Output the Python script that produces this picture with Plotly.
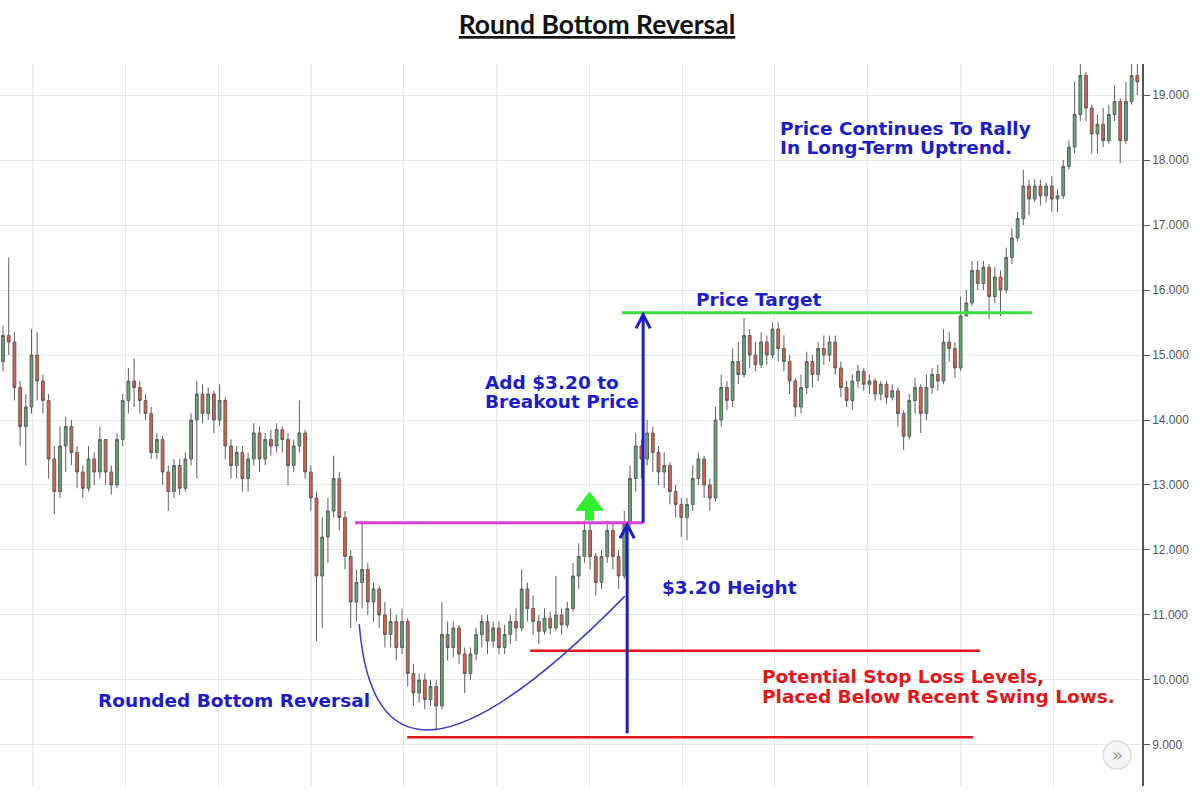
import plotly.graph_objects as go

# daily bars (index = trading day)
days = list(range(200))

opens = [
    14.9, 15.3, 15.2, 14.5, 13.9, 14.2, 15.0, 14.6, 14.3, 13.4,
    12.9, 13.6, 13.9, 13.5, 13.2, 12.95, 13.4, 13.2, 13.7, 13.2,
    13.0, 13.7, 14.3, 14.6, 14.5, 14.3, 14.1, 13.5, 13.7, 13.2,
    12.9, 13.3, 12.95, 13.4, 14.0, 14.4, 14.1, 14.4, 14.0, 14.3,
    13.6, 13.3, 13.5, 13.1, 13.4, 13.8, 13.4, 13.7, 13.6, 13.85,
    13.7, 13.3, 13.6, 13.8, 13.2, 12.8, 11.6, 12.2, 12.6, 13.1,
    12.5, 11.9, 11.2, 11.5, 11.7, 11.2, 11.4, 11.0, 10.7, 10.9,
    10.5, 10.9, 10.1, 9.8, 10.0, 9.7, 9.9, 9.6, 10.7, 10.5,
    10.8, 10.4, 10.1, 10.4, 10.7, 10.9, 10.6, 10.8, 10.5, 10.7,
    10.9, 10.8, 11.4, 11.1, 10.9, 10.75, 10.95, 10.8, 11.0, 10.85,
    11.1, 11.6, 11.9, 12.3, 11.9, 11.5, 11.9, 12.3, 11.9, 11.6,
    12.4, 13.1, 13.6, 13.4, 13.8, 13.5, 13.2, 13.3, 12.9, 12.7,
    12.5, 12.7, 13.1, 13.4, 13.0, 12.8, 14.0, 14.5, 14.3, 14.9,
    14.7, 15.3, 15.0, 14.85, 15.2, 15.0, 15.4, 15.1, 14.9, 14.6,
    14.2, 14.5, 14.9, 14.7, 15.1, 15.0, 15.2, 14.8, 14.5, 14.3,
    14.6, 14.75, 14.55, 14.6, 14.4, 14.55, 14.35, 14.45, 14.1, 13.75,
    14.3, 14.5, 14.1, 14.5, 14.7, 14.6, 15.2, 15.1, 14.8, 15.6,
    15.8, 16.3, 16.1, 16.35, 15.9, 16.2, 16.0, 16.5, 16.8, 17.1,
    17.6, 17.4, 17.6, 17.45, 17.6, 17.4, 17.45, 17.9, 18.2, 18.7,
    19.3, 18.8, 18.4, 18.55, 18.3, 18.7, 18.9, 18.3, 18.9, 19.3,
]

closes = [
    15.3, 15.2, 14.5, 13.9, 14.2, 15.0, 14.6, 14.3, 13.4, 12.9,
    13.6, 13.9, 13.5, 13.2, 12.95, 13.4, 13.2, 13.7, 13.2, 13.0,
    13.7, 14.3, 14.6, 14.5, 14.3, 14.1, 13.5, 13.7, 13.2, 12.9,
    13.3, 12.95, 13.4, 14.0, 14.4, 14.1, 14.4, 14.0, 14.3, 13.6,
    13.3, 13.5, 13.1, 13.4, 13.8, 13.4, 13.7, 13.6, 13.85, 13.7,
    13.3, 13.6, 13.8, 13.2, 12.8, 11.6, 12.2, 12.6, 13.1, 12.5,
    11.9, 11.2, 11.5, 11.7, 11.2, 11.4, 11.0, 10.7, 10.9, 10.5,
    10.9, 10.1, 9.8, 10.0, 9.7, 9.9, 9.6, 10.7, 10.5, 10.8,
    10.4, 10.1, 10.4, 10.7, 10.9, 10.6, 10.8, 10.5, 10.7, 10.9,
    10.8, 11.4, 11.1, 10.9, 10.75, 10.95, 10.8, 11.0, 10.85, 11.1,
    11.6, 11.9, 12.3, 11.9, 11.5, 11.9, 12.3, 11.9, 11.6, 12.4,
    13.1, 13.6, 13.4, 13.8, 13.5, 13.2, 13.3, 12.9, 12.7, 12.5,
    12.7, 13.1, 13.4, 13.0, 12.8, 14.0, 14.5, 14.3, 14.9, 14.7,
    15.3, 15.0, 14.85, 15.2, 15.0, 15.4, 15.1, 14.9, 14.6, 14.2,
    14.5, 14.9, 14.7, 15.1, 15.0, 15.2, 14.8, 14.5, 14.3, 14.6,
    14.75, 14.55, 14.6, 14.4, 14.55, 14.35, 14.45, 14.1, 13.75, 14.3,
    14.5, 14.1, 14.5, 14.7, 14.6, 15.2, 15.1, 14.8, 15.6, 15.8,
    16.3, 16.1, 16.35, 15.9, 16.2, 16.0, 16.5, 16.8, 17.1, 17.6,
    17.4, 17.6, 17.45, 17.6, 17.4, 17.45, 17.9, 18.2, 18.7, 19.3,
    18.8, 18.4, 18.55, 18.3, 18.7, 18.9, 18.3, 18.9, 19.3, 19.2,
]

highs = [
    15.45, 16.5, 15.35, 14.6, 14.4, 15.4, 15.35, 14.7, 14.4, 13.6,
    13.9, 14.05, 14.0, 13.6, 13.3, 13.6, 13.5, 13.9, 13.7, 13.3,
    13.8, 14.4, 14.8, 14.95, 14.6, 14.4, 14.2, 13.8, 13.75, 13.3,
    13.4, 13.4, 13.5, 14.1, 14.6, 14.55, 14.5, 14.45, 14.55, 14.35,
    13.7, 13.6, 13.6, 13.5, 13.95, 13.9, 13.8, 13.85, 13.95, 13.9,
    13.8, 13.7, 14.3, 13.85, 13.3, 12.9, 12.5, 12.8, 13.45, 13.2,
    12.6, 12.0, 11.7, 12.4, 11.8, 11.5, 11.45, 11.2, 11.1, 11.0,
    11.1, 10.95, 10.25, 10.1, 10.1, 10.0, 10.0, 11.2, 10.9, 10.9,
    10.85, 10.5, 10.5, 10.8, 11.0, 11.0, 10.9, 10.9, 10.85, 11.0,
    11.1, 11.7, 11.5, 11.3, 11.0, 11.1, 11.05, 11.6, 11.1, 11.2,
    11.8, 12.1, 12.45, 12.4, 11.95, 12.0, 12.45, 12.4, 12.0, 12.6,
    13.3, 13.8, 13.7, 14.0, 13.9, 13.6, 13.5, 13.35, 13.0, 12.8,
    12.8, 13.3, 13.5, 13.45, 13.1, 14.2, 14.7, 14.6, 15.1, 15.2,
    15.57, 15.4, 15.2, 15.35, 15.3, 15.5, 15.5, 15.3, 15.0, 14.65,
    14.7, 15.05, 15.0, 15.2, 15.3, 15.3, 15.3, 14.9, 14.6, 14.7,
    14.85, 14.8, 14.7, 14.65, 14.6, 14.6, 14.55, 14.5, 14.15, 14.4,
    14.65, 14.55, 14.7, 14.8, 14.85, 15.4, 15.35, 15.2, 15.9, 16.0,
    16.45, 16.45, 16.45, 16.4, 16.35, 16.3, 16.65, 16.95, 17.2, 17.85,
    17.7, 17.7, 17.7, 17.65, 17.75, 17.55, 18.0, 18.3, 19.2, 19.5,
    19.35, 18.85, 18.7, 18.8, 18.85, 19.15, 18.95, 19.2, 19.5, 19.5,
]

lows = [
    14.75, 15.0, 14.3, 13.6, 13.3, 14.1, 14.3, 14.1, 13.1, 12.55,
    12.8, 13.2, 13.3, 12.95, 12.8, 12.9, 13.0, 13.1, 13.0, 12.85,
    12.95, 13.6, 14.1, 14.2, 14.1, 14.0, 13.4, 13.4, 13.0, 12.6,
    12.8, 12.85, 12.9, 13.3, 13.1, 13.95, 14.0, 13.8, 13.9, 13.4,
    13.1, 13.1, 12.9, 12.9, 13.3, 13.2, 13.3, 13.45, 13.5, 13.5,
    13.0, 13.2, 13.5, 13.1, 12.6, 10.6, 10.8, 11.8, 12.5, 12.3,
    11.7, 10.8, 10.9, 11.1, 11.0, 10.9, 10.8, 10.5, 10.5, 10.3,
    10.4, 9.9, 9.6, 9.65, 9.55, 9.6, 9.22, 9.55, 10.3, 10.35,
    10.25, 9.8, 10.0, 10.3, 10.5, 10.4, 10.5, 10.4, 10.4, 10.55,
    10.6, 10.75, 10.9, 10.7, 10.55, 10.7, 10.7, 10.75, 10.7, 10.8,
    11.05, 11.4, 11.8, 11.7, 11.3, 11.4, 11.8, 11.7, 11.4, 11.55,
    12.3, 12.9, 13.1, 13.3, 13.2, 13.0, 12.95, 12.7, 12.5, 12.2,
    12.15, 12.6, 13.0, 12.8, 12.6, 12.75, 13.9, 14.15, 14.2, 14.55,
    14.65, 14.8, 14.75, 14.8, 14.85, 14.95, 14.9, 14.75, 14.4, 14.05,
    14.1, 14.4, 14.5, 14.6, 14.85, 14.9, 14.7, 14.35, 14.2, 14.15,
    14.5, 14.45, 14.4, 14.3, 14.3, 14.25, 14.3, 13.9, 13.54, 13.7,
    14.1, 13.8, 14.0, 14.4, 14.45, 14.55, 14.9, 14.65, 14.75, 15.6,
    15.75, 16.0, 16.0, 15.55, 15.8, 15.6, 15.95, 16.4, 16.75, 17.0,
    17.15, 17.35, 17.3, 17.35, 17.2, 17.2, 17.4, 17.85, 18.1, 18.6,
    18.6, 18.1, 18.1, 18.2, 18.25, 18.6, 17.95, 18.25, 18.85, 19.0,
]

# pattern levels
breakout_price = 12.42
bottom_price = 9.2
target_price = 15.65
stop_high = 10.45
stop_low = 9.12

BLUE = "#1c1cc8"
RED = "#e3161c"
TEXT_FONT = "DejaVu Sans"
TEXT_SIZE = 18.5

fig = go.Figure(go.Candlestick(
    x=days, open=opens, high=highs, low=lows, close=closes,
    increasing=dict(line=dict(color="#5f5f5f", width=1), fillcolor="#63a674"),
    decreasing=dict(line=dict(color="#5f5f5f", width=1), fillcolor="#dc5f4a"),
    whiskerwidth=0, showlegend=False, hoverinfo="skip",
))


def head(x, y):
    # open chevron arrow head pointing up
    return dict(type="path", xref="x", yref="y",
                path=f"M {x - 1.25},{y - 0.21} L {x},{y} L {x + 1.25},{y - 0.21}",
                line=dict(color=BLUE, width=3))


shapes = [
    # breakout (neckline)
    dict(type="line", xref="x", yref="y", x0=61.8, x1=112.3, y0=breakout_price, y1=breakout_price,
         line=dict(color="#dd3fdd", width=3)),
    # target line
    dict(type="line", xref="x", yref="y", x0=108.6, x1=180.5, y0=target_price, y1=target_price,
         line=dict(color="#3fdc3f", width=3)),
    # stop levels
    dict(type="line", xref="x", yref="y", x0=92.5, x1=171.4, y0=stop_high, y1=stop_high,
         line=dict(color=RED, width=2.5)),
    dict(type="line", xref="x", yref="y", x0=70.9, x1=170.2, y0=stop_low, y1=stop_low,
         line=dict(color=RED, width=2.5)),
    # height arrow
    dict(type="line", xref="x", yref="y", x0=109.5, x1=109.5, y0=bottom_price - 0.02, y1=breakout_price - 0.03,
         line=dict(color=BLUE, width=3)),
    head(109.5, breakout_price - 0.03),
    # added height arrow
    dict(type="line", xref="x", yref="y", x0=112.3, x1=112.3, y0=breakout_price, y1=target_price - 0.03,
         line=dict(color=BLUE, width=3)),
    head(112.3, target_price - 0.03),
    # rounded bottom curve
    dict(type="path", xref="x", yref="y", path="M 62.5,10.86 Q 65.6,7.4 109.1,11.29",
         line=dict(color="#3b3bbf", width=1.5)),
    # green breakout arrow
    dict(type="path", xref="x", yref="y",
         path="M 100.5,12.61 L 102.9,12.89 L 105.3,12.61 L 103.6,12.61 L 103.6,12.46 "
              "L 102.2,12.46 L 102.2,12.61 Z",
         fillcolor="#2ff02f", line=dict(color="#2ff02f", width=1)),
    # scroll button
    dict(type="circle", xref="x", yref="y", x0=193.0, x1=197.9, y0=8.63, y1=9.06,
         fillcolor="#f5f5f5", line=dict(color="#dcdcdc", width=1.5)),
]

annotations = [
    dict(x=132.6, y=15.85, text="Price Target", xanchor="center", color=BLUE),
    dict(x=84.2, y=14.57, text="Add $3.20 to", xanchor="left", color=BLUE),
    dict(x=84.2, y=14.28, text="Breakout Price", xanchor="left", color=BLUE),
    dict(x=115.3, y=11.43, text="$3.20 Height", xanchor="left", color=BLUE),
    dict(x=16.3, y=9.69, text="Rounded Bottom Reversal", xanchor="left", color=BLUE),
    dict(x=132.8, y=10.05, text="Potential Stop Loss Levels,", xanchor="left", color=RED),
    dict(x=132.8, y=9.75, text="Placed Below Recent Swing Lows.", xanchor="left", color=RED),
    dict(x=136.0, y=18.49, text="Price Continues To Rally", xanchor="left", color=BLUE),
    dict(x=136.0, y=18.2, text="In Long-Term Uptrend.", xanchor="left", color=BLUE),
]
for a in annotations:
    a["text"] = "<b>" + a["text"] + "</b>"
    a["font"] = dict(family=TEXT_FONT, size=TEXT_SIZE, color=a.pop("color"))
    a.update(xref="x", yref="y", showarrow=False, yanchor="middle")

annotations.append(dict(x=195.45, y=8.85, xref="x", yref="y", text="»", showarrow=False,
                        font=dict(family=TEXT_FONT, size=18, color="#9a9a9a")))

fig.update_layout(
    width=1200, height=799,
    paper_bgcolor="white", plot_bgcolor="white",
    margin=dict(l=0, r=58, t=64, b=13),
    title=dict(text="<b><u>Round Bottom Reversal</u></b>", x=0.4975, xanchor="center",
               y=0.969, yref="container", yanchor="middle",
               font=dict(family="Lato", size=26.5, color="#111")),
    shapes=shapes,
    annotations=annotations,
    xaxis=dict(range=[-0.526, 199.82], rangeslider=dict(visible=False), showticklabels=False,
               showgrid=True, gridcolor="#e8e8e8", tickmode="linear", tick0=5.26, dtick=16.27,
               zeroline=False, ticks=""),
    yaxis=dict(side="right", range=[8.369, 19.477], tickmode="linear", tick0=9, dtick=1,
               tickformat=".3f", ticks="outside", ticklen=6, tickcolor="#555",
               showline=True, linecolor="#555", linewidth=1.5, gridcolor="#e8e8e8",
               zeroline=False, tickfont=dict(family="Liberation Sans", size=12, color="#555")),
)

# page margin off so the figure sits at the window's top-left corner
fig.write_html("out.html", config={"displayModeBar": False},
               post_script="document.body.style.margin = '0';")
